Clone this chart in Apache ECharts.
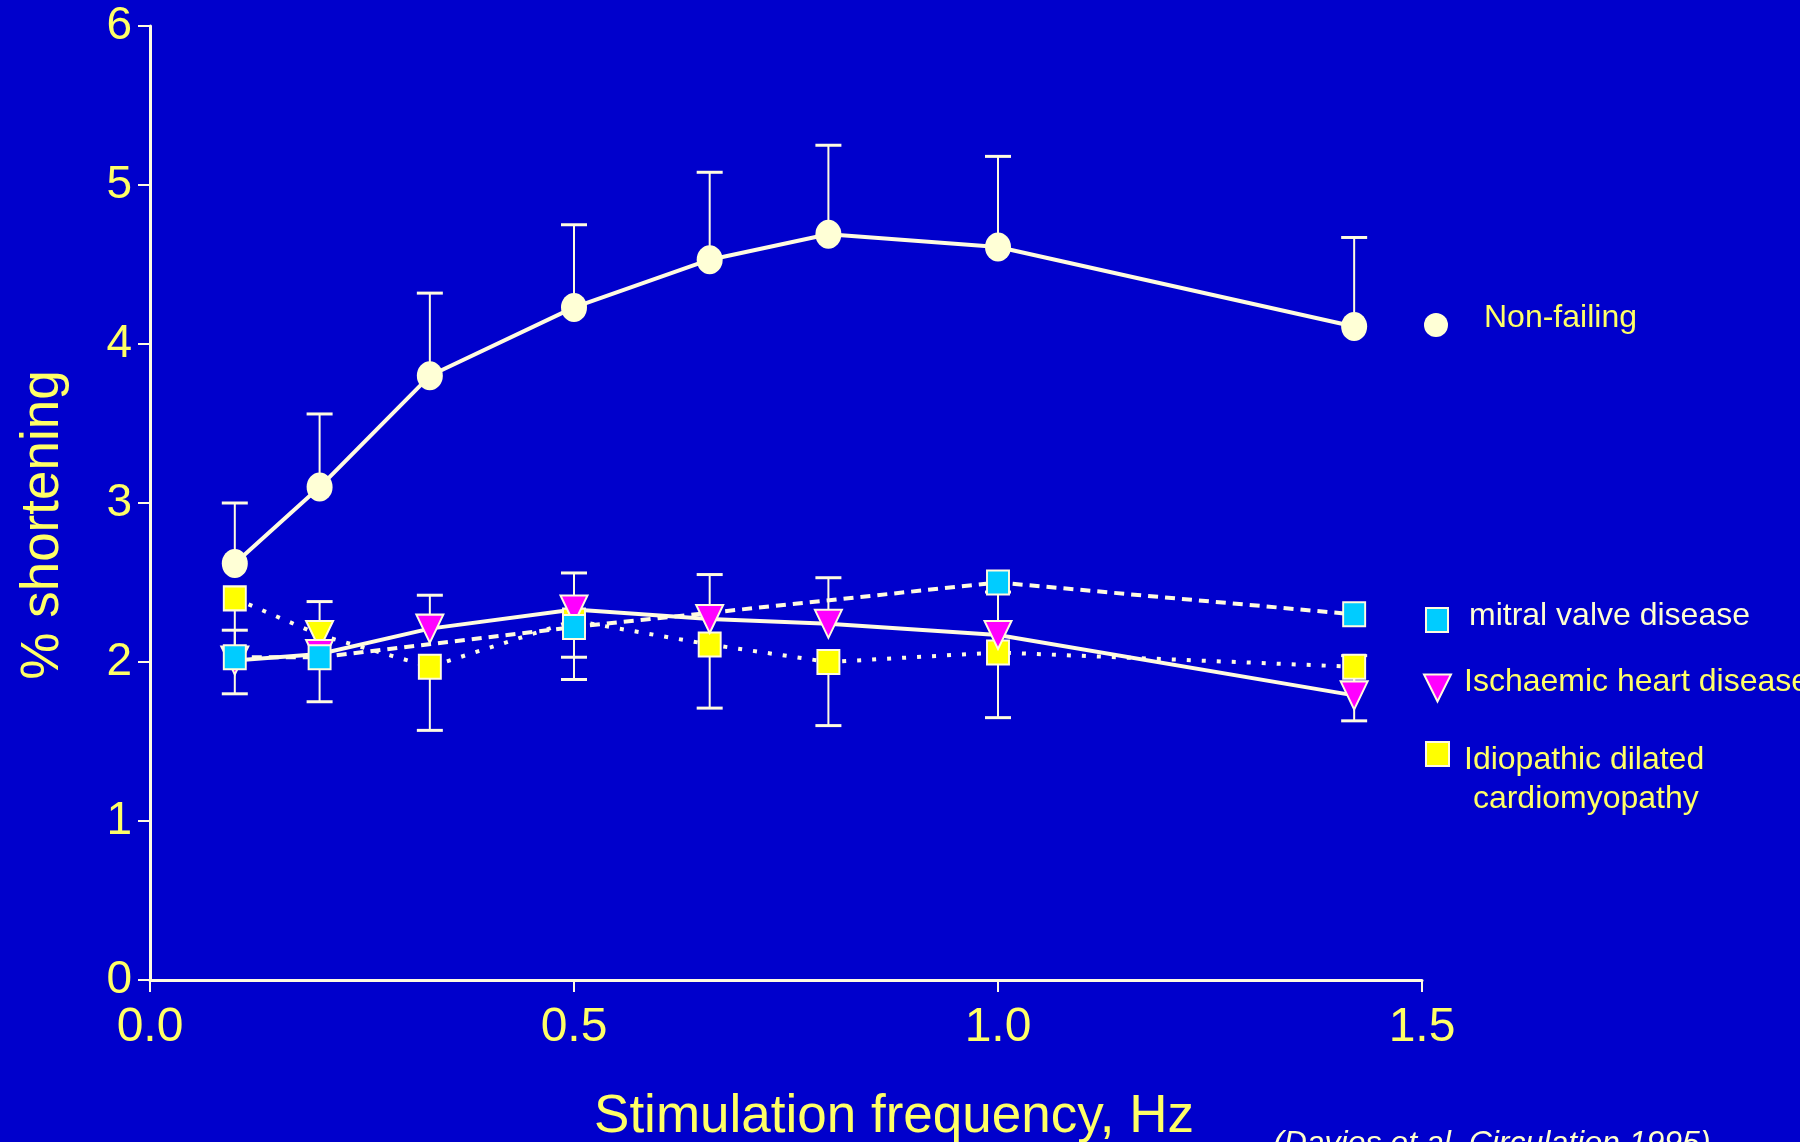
<!DOCTYPE html>
<html>
<head>
<meta charset="utf-8">
<title>% shortening vs stimulation frequency</title>
<script src="https://cdn.jsdelivr.net/npm/echarts@6/dist/echarts.min.js"></script>
<style>
  html, body { margin: 0; padding: 0; background: #0000cc; }
  #chart { width: 1800px; height: 1142px; }
</style>
</head>
<body>
<div id="chart"></div>
<script>
// stimulation frequencies, Hz
var freqAll = [0.1, 0.2, 0.33, 0.5, 0.66, 0.8, 1.0, 1.42];
var freqMitral = [0.1, 0.2, 0.5, 1.0, 1.42];

// % shortening (mean) and SEM
var nonFailing = [2.62, 3.10, 3.80, 4.23, 4.53, 4.69, 4.61, 4.11];
var nonFailingSem = [0.38, 0.46, 0.52, 0.52, 0.55, 0.56, 0.57, 0.56];

var mitral = [2.03, 2.03, 2.22, 2.50, 2.30];
var mitralSem = [null, null, 0.19, null, null];

var ischaemic = [2.01, 2.05, 2.21, 2.33, 2.27, 2.24, 2.17, 1.79];
var ischaemicSem = [0.19, 0.33, 0.21, 0.23, 0.28, 0.29, 0.27, 0.25];

var idiopathic = [2.40, 2.17, 1.97, 2.26, 2.11, 2.00, 2.06, 1.97];
var idiopathicSem = [0.60, 0.42, 0.40, 0.37, 0.40, 0.40, 0.41, 0.34];

var seriesNames = ['Non-failing', 'mitral valve disease', 'Ischaemic heart disease', 'Idiopathic dilated cardiomyopathy'];

var cream = '#fffbe0';
var yellowText = '#ffff66';
var font = 'Liberation Sans, Arial, sans-serif';
var triDown = 'path://M0,0L20,0L10,20Z';
var ellipse = 'path://M0,10A10,10 0 1,0 20,10A10,10 0 1,0 0,10Z';

function pairs(xs, ys) {
  return xs.map(function (x, i) { return [x, ys[i]]; });
}

// one row per bar: [x, mean, end of bar]; dir = 1 up, -1 down
function errRows(xs, ys, sems, dir) {
  var rows = [];
  xs.forEach(function (x, i) {
    if (sems[i] == null) return;
    rows.push([x, ys[i], +(ys[i] + dir * sems[i]).toFixed(3)]);
  });
  return rows;
}

function renderErr(params, api) {
  var a = api.coord([api.value(0), api.value(1)]);
  var b = api.coord([api.value(0), api.value(2)]);
  return {
    type: 'group',
    children: [
      { type: 'line', shape: { x1: a[0], y1: a[1], x2: b[0], y2: b[1] }, style: { stroke: cream, lineWidth: 2 } },
      { type: 'line', shape: { x1: b[0] - 13, y1: b[1], x2: b[0] + 13, y2: b[1] }, style: { stroke: cream, lineWidth: 3 } }
    ]
  };
}

var idcData = pairs(freqAll, idiopathic);
// the 0.2 Hz point is drawn as a triangle in the original
idcData[1] = { value: idcData[1], symbol: triDown, symbolSize: [27, 28] };

// legend text sits a little above its marker in the original:
// a trailing empty line with a small lineHeight lifts the first line
function legendText(size, lh) {
  return { color: yellowText, fontSize: size, lineHeight: lh, fontFamily: font };
}

var chart = echarts.init(document.getElementById('chart'));
var option = {
  backgroundColor: '#0000cc',
  animation: false,
  textStyle: { fontFamily: font },
  grid: { left: 150, right: 378, top: 26, bottom: 162, outerBoundsMode: 'none' },
  title: {
    text: '(Davies et al. Circulation 1995)',
    left: 1273,
    top: 1128,
    padding: 0,
    textStyle: { color: '#ffffcc', fontSize: 32, fontStyle: 'italic', fontWeight: 'normal', fontFamily: font }
  },
  legend: [
    {
      data: [seriesNames[0]], left: 1424, top: 302, padding: 0, selectedMode: false,
      icon: ellipse, itemWidth: 24, itemHeight: 28,
      formatter: function (n) { return n + '\n'; },
      textStyle: Object.assign(legendText(32, 14), { padding: [0, 0, 0, 31] })
    },
    {
      data: [seriesNames[1]], left: 1425, top: 600, padding: 0, selectedMode: false,
      icon: 'rect', itemWidth: 22, itemHeight: 24,
      formatter: function (n) { return n + '\n'; },
      textStyle: Object.assign(legendText(32, 8), { color: '#ffffd0', padding: [0, 0, 0, 16] })
    },
    {
      data: [seriesNames[2]], left: 1423, top: 666, padding: 0, selectedMode: false,
      icon: triDown, itemWidth: 27, itemHeight: 31,
      formatter: function (n) { return n + '\n'; },
      textStyle: Object.assign(legendText(32, 12), { padding: [0, 0, 0, 8] })
    },
    {
      data: [seriesNames[3]], left: 1425, top: 710, padding: 0, selectedMode: false,
      icon: 'rect', itemWidth: 23, itemHeight: 24,
      // empty first line keeps "Idiopathic dilated" level with the square
      formatter: function () { return '{gap| }\n{t|Idiopathic dilated}\n{t| cardiomyopathy}'; },
      textStyle: {
        color: yellowText, fontSize: 32, fontFamily: font, padding: [0, 0, 0, 10],
        rich: {
          gap: { fontSize: 10, lineHeight: 51 },
          t: { color: yellowText, fontSize: 32, lineHeight: 39, fontFamily: font }
        }
      }
    }
  ],
  xAxis: {
    type: 'value',
    min: 0,
    max: 1.5,
    interval: 0.5,
    name: 'Stimulation frequency, Hz',
    nameLocation: 'middle',
    nameGap: 111,
    nameTextStyle: { color: yellowText, fontSize: 53, fontFamily: font, padding: [0, 0, 0, 216] },
    axisLine: { lineStyle: { color: cream, width: 3 } },
    axisTick: { length: 12, lineStyle: { color: cream, width: 2 } },
    splitLine: { show: false },
    axisLabel: {
      color: yellowText, fontSize: 48, margin: 24, fontFamily: font,
      formatter: function (v) { return v.toFixed(1); }
    }
  },
  yAxis: {
    type: 'value',
    min: 0,
    max: 6,
    interval: 1,
    name: '% shortening',
    nameLocation: 'middle',
    nameGap: 80,
    nameTextStyle: { color: yellowText, fontSize: 53, fontFamily: font, padding: [0, 44, 0, 0] },
    axisLine: { show: true, lineStyle: { color: cream, width: 3 } },
    axisTick: { show: true, length: 12, lineStyle: { color: cream, width: 2 } },
    splitLine: { show: false },
    axisLabel: { color: yellowText, fontSize: 46, margin: 18, fontFamily: font }
  },
  series: [
    {
      // bars that sit under the IDC squares
      type: 'custom',
      renderItem: renderErr,
      encode: { x: 0, y: [1, 2] },
      silent: true,
      data: errRows(freqAll, idiopathic, idiopathicSem, -1).concat(errRows(freqMitral, mitral, mitralSem, -1))
    },
    {
      name: seriesNames[3],
      type: 'line',
      data: idcData,
      symbol: 'rect',
      symbolSize: [22, 24],
      itemStyle: { color: '#ffff00', borderColor: cream, borderWidth: 2 },
      lineStyle: { color: cream, width: 4, type: [4, 11] }
    },
    {
      type: 'custom',
      renderItem: renderErr,
      encode: { x: 0, y: [1, 2] },
      silent: true,
      data: errRows(freqAll, ischaemic, ischaemicSem, 1).concat(errRows(freqAll, nonFailing, nonFailingSem, 1))
    },
    {
      name: seriesNames[2],
      type: 'line',
      data: pairs(freqAll, ischaemic),
      symbol: triDown,
      symbolSize: [27, 28],
      itemStyle: { color: '#ff00ff', borderColor: cream, borderWidth: 2 },
      lineStyle: { color: cream, width: 4 }
    },
    {
      name: seriesNames[1],
      type: 'line',
      data: pairs(freqMitral, mitral),
      symbol: 'rect',
      symbolSize: [22, 24],
      itemStyle: { color: '#00ccff', borderColor: cream, borderWidth: 2 },
      lineStyle: { color: cream, width: 4, type: [10, 7] }
    },
    {
      name: seriesNames[0],
      type: 'line',
      data: pairs(freqAll, nonFailing),
      symbol: ellipse,
      symbolSize: [26, 29],
      itemStyle: { color: '#ffffd6', borderWidth: 0 },
      lineStyle: { color: cream, width: 4 }
    }
  ]
};
chart.setOption(option);
</script>
</body>
</html>
